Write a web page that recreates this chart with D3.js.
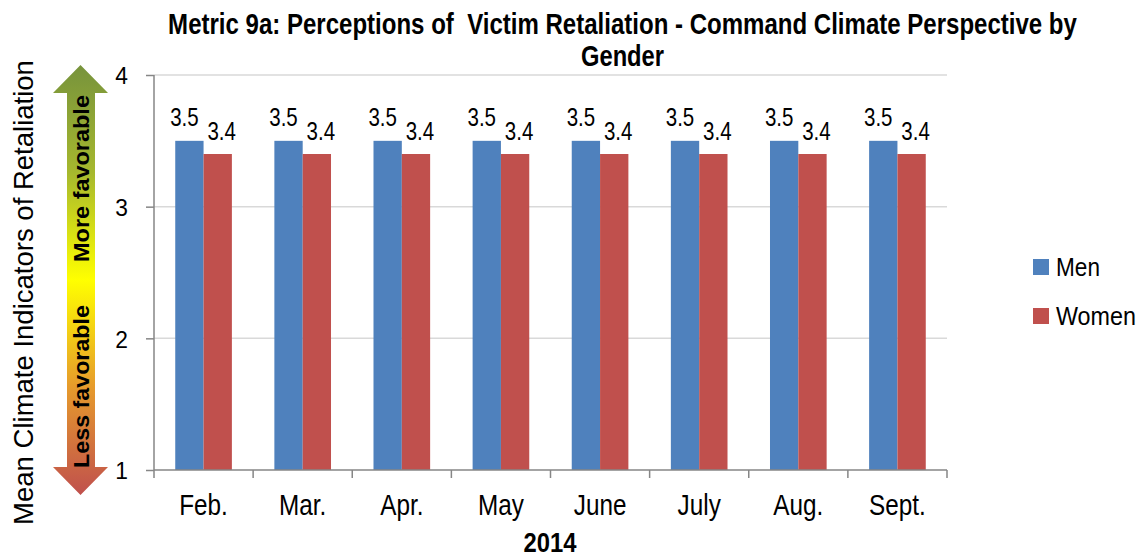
<!DOCTYPE html>
<html>
<head>
<meta charset="utf-8">
<script src="https://cdn.jsdelivr.net/npm/d3@7"></script>
<style>
body { margin: 0; background: #fff; }
svg text { font-family: "Liberation Sans", Arial, sans-serif; white-space: pre; }
</style>
</head>
<body>
<svg id="chart" width="1139" height="558"></svg>
<script>
const categories = ["Feb.", "Mar.", "Apr.", "May", "June", "July", "Aug.", "Sept."];
const seriesNames = ["Men", "Women"];
const menValues = [3.5, 3.5, 3.5, 3.5, 3.5, 3.5, 3.5, 3.5];
const womenValues = [3.4, 3.4, 3.4, 3.4, 3.4, 3.4, 3.4, 3.4];
const yTicks = [1, 2, 3, 4];
const colors = ["#4F81BD", "#C0504D"];
const titleLines = ["Metric 9a: Perceptions of  Victim Retaliation - Command Climate Perspective by", "Gender"];
const xTitle = "2014";
const yTitle = "Mean Climate Indicators of Retaliation";

const svg = d3.select("#chart");
const pL = 154, pR = 947, pT = 75, pB = 470;
const NARROW = 0.82;

// place a text at (tx,ty) with optional rotation, squeezed horizontally to a target length
function fitText(sel, tx, ty, rot, target) {
  sel.each(function (d, i) {
    const w = this.getComputedTextLength();
    const t = typeof target === "function" ? target(d, i) : target;
    const X = typeof tx === "function" ? tx(d, i) : tx;
    const Y = typeof ty === "function" ? ty(d, i) : ty;
    d3.select(this).attr("transform", `translate(${X},${Y})${rot ? ` rotate(${rot})` : ""} scale(${t / w},1)`);
  });
}

const x0 = d3.scaleBand().domain(categories).range([pL, pR]).paddingInner(0).paddingOuter(0);
const bw = x0.bandwidth() / 3.5;
const x1 = d3.scaleBand().domain(seriesNames).range([0.75 * bw, 2.75 * bw]);
const y = d3.scaleLinear().domain([1, 4]).range([pB, pT]);

// gridlines
svg.append("g").selectAll("line").data(yTicks.filter(t => t > 1)).join("line")
  .attr("x1", pL).attr("x2", pR)
  .attr("y1", d => y(d)).attr("y2", d => y(d))
  .attr("stroke", "#D9D9D9").attr("stroke-width", 1.5);

const data = categories.map((c, i) => ({ c, vals: [menValues[i], womenValues[i]] }));

const groups = svg.append("g").selectAll("g").data(data).join("g")
  .attr("transform", d => `translate(${x0(d.c)},0)`);

groups.selectAll("rect").data(d => d.vals.map((v, j) => ({ v, j }))).join("rect")
  .attr("x", d => x1(seriesNames[d.j]))
  .attr("width", x1.bandwidth())
  .attr("y", d => y(d.v))
  .attr("height", d => y(1) - y(d.v))
  .attr("fill", d => colors[d.j]);

groups.selectAll("text").data(d => d.vals.map((v, j) => ({ v, j }))).join("text")
  .attr("transform", d => `translate(${x1(seriesNames[d.j]) + x1.bandwidth() / 2 + (d.j === 0 ? -5 : 4)},${y(d.v) - (d.j === 0 ? 15 : 14)}) scale(${NARROW},1)`)
  .attr("text-anchor", "middle")
  .attr("font-size", 25)
  .attr("fill", "#000")
  .text(d => d.v.toFixed(1));

// axes
const yAxis = d3.axisLeft(y).tickValues(yTicks).tickSize(8).tickPadding(10).tickFormat(d3.format("d"));
const gy = svg.append("g").attr("transform", `translate(${pL},0)`).call(yAxis);
gy.select(".domain").attr("stroke", "#868686").attr("stroke-width", 1.5).attr("d", `M0,${pT}V${pB}`);
gy.selectAll(".tick line").attr("stroke", "#868686").attr("stroke-width", 1.5);
gy.selectAll(".tick text").attr("font-size", 24).attr("fill", "#000")
  .style("font-family", '"Liberation Sans", Arial, sans-serif')
  .attr("x", null).attr("transform", `translate(-26,1) scale(0.95,1)`);

const xAxis = d3.axisBottom(x0).tickSize(0).tickPadding(24);
const gx = svg.append("g").attr("transform", `translate(0,${pB})`).call(xAxis);
gx.select(".domain").attr("stroke", "#868686").attr("stroke-width", 1.5).attr("d", `M${pL},0H${pR}`);
gx.selectAll(".tick text").attr("font-size", 30).attr("fill", "#000")
  .style("font-family", '"Liberation Sans", Arial, sans-serif')
  .attr("transform", `scale(0.81,1)`);
// boundary tick marks
const bounds = categories.map(c => x0(c)).concat([pR]);
svg.append("g").selectAll("line").data(bounds).join("line")
  .attr("x1", d => d).attr("x2", d => d)
  .attr("y1", pB).attr("y2", pB + 8)
  .attr("stroke", "#868686").attr("stroke-width", 1.5);

// title
const titleLens = [909, 83];
svg.append("g").selectAll("text").data(titleLines).join("text")
  .attr("text-anchor", "middle").attr("font-size", 29).attr("font-weight", "bold")
  .text(d => d)
  .call(fitText, 622.5, (d, i) => 34 + i * 32, 0, (d, i) => titleLens[i]);

// x title
svg.append("text").attr("text-anchor", "middle")
  .attr("font-size", 28).attr("font-weight", "bold").text(xTitle)
  .call(fitText, 550, 552, 0, 53);

// y title
svg.append("text").attr("text-anchor", "middle").attr("font-size", 28).text(yTitle)
  .call(fitText, 33, 292.5, -90, 465);

// arrow with gradient
const defs = svg.append("defs");
const grad = defs.append("linearGradient").attr("id", "arrowGrad")
  .attr("x1", 0).attr("y1", 0).attr("x2", 0).attr("y2", 1);
[["0%", "#77933C"], ["25%", "#A6B82E"], ["50%", "#FFFF00"], ["75%", "#E69A2C"], ["100%", "#C0504D"]]
  .forEach(([o, c]) => grad.append("stop").attr("offset", o).attr("stop-color", c));
const ax0 = 53, ax1 = 108, sx0 = 67, sx1 = 95, tipTop = 65, headTop = 93, headBot = 467, tipBot = 495;
svg.append("path")
  .attr("d", `M${(ax0 + ax1) / 2},${tipTop} L${ax1},${headTop} L${sx1},${headTop} L${sx1},${headBot} L${ax1},${headBot} L${(ax0 + ax1) / 2},${tipBot} L${ax0},${headBot} L${sx0},${headBot} L${sx0},${headTop} L${ax0},${headTop} Z`)
  .attr("fill", "url(#arrowGrad)");
svg.append("text").attr("text-anchor", "middle").attr("font-size", 22).attr("font-weight", "bold")
  .text("More favorable").call(fitText, 89, 178.5, -90, 167);
svg.append("text").attr("text-anchor", "middle").attr("font-size", 22).attr("font-weight", "bold")
  .text("Less favorable").call(fitText, 89, 386.5, -90, 163);

// legend
const legLens = [44, 80];
const leg = svg.append("g").selectAll("g").data(seriesNames).join("g")
  .attr("transform", (d, i) => `translate(1033,${259 + i * 49})`);
leg.append("rect").attr("width", 16).attr("height", 16).attr("fill", (d, i) => colors[i]);
leg.append("text").attr("font-size", 25).text(d => d)
  .call(fitText, 23, 17, 0, (d, i) => legLens[i]);
</script>
</body>
</html>
